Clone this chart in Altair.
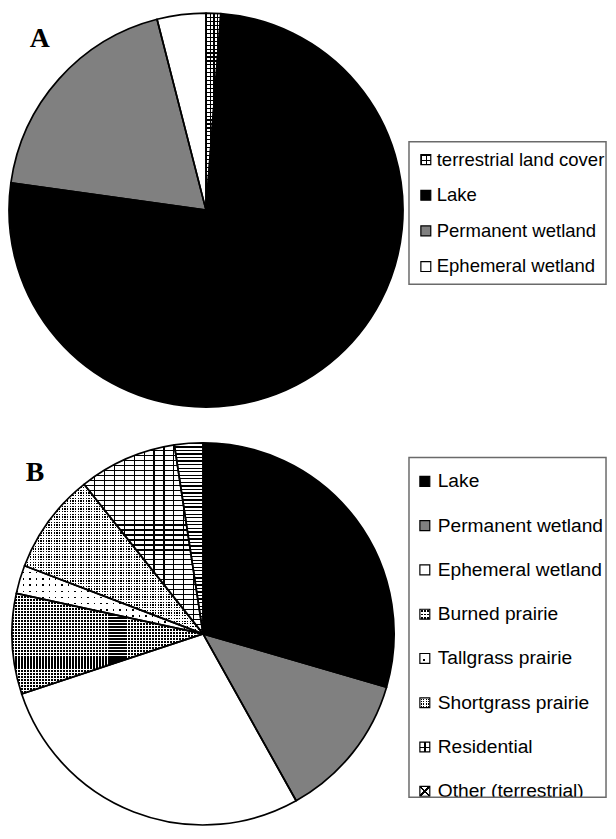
import math
import altair as alt
import pandas as pd

# ---------------- data ----------------
cats_a = ["terrestrial land cover", "Lake", "Permanent wetland", "Ephemeral wetland"]
vals_a = [1.2, 76.0, 18.8, 4.0]

cats_b = ["Lake", "Permanent wetland", "Ephemeral wetland", "Burned prairie",
          "Tallgrass prairie", "Shortgrass prairie", "Residential", "Other (terrestrial)"]
vals_b = [29.5, 12.4, 28.0, 8.5, 2.4, 8.5, 8.3, 2.4]

panel_labels = ["A", "B"]

# ---------------- layout / style ----------------
W, H = 606, 822
PIE_A = dict(x=200, y=200, r=199)
PIE_B = dict(x=197, y=628, r=193)
LEG_A = dict(x0=405, x1=604, y0=131, y1=275, iy0=149, iy1=257, sx=422, tx=430, fs=18.7)
LEG_B = dict(x0=405, x1=604, y0=450, y1=793, iy0=474, iy1=787, sx=421, tx=431, fs=19.4)
BLACK, WHITE, CLEAR, GRAY = "#000000", "#ffffff", "rgba(0,0,0,0)", "#808080"
TEXT_FONT = "Liberation Sans"

solid = {"Lake": BLACK, "Permanent wetland": GRAY, "Ephemeral wetland": WHITE}
pie_patterns = {
    "terrestrial land cover": ("grid", 4.0, 4.0, 1.2),
    "Burned prairie": ("dots", 3.0, 2.1),
    "Tallgrass prairie": ("dots", 6.5, 1.5),
    "Shortgrass prairie": ("dots", 2.7, 1.3),
    "Residential": ("grid", 10.0, 5.0, 1.2),
    "Other (terrestrial)": ("hlines", 3.6, 1.3),
}


def stripes(extent, period, width, on, off, axis, phase=0.0):
    n = max(1, round(extent / period))
    f = min(0.95, width * n / extent)
    segs = []
    for k in range(-1, n + 1):
        a = max(0.0, (k + phase) / n)
        b = min(1.0, (k + phase + f) / n)
        if b > a:
            segs.append((a, b))
    stops = []

    def add(o, c):
        stops.append({"offset": round(o, 5), "color": c})

    pos = 0.0
    for a, b in segs:
        if a > pos:
            add(pos, off)
            add(a, off)
        add(a, on)
        add(b, on)
        pos = b
    if pos < 1:
        add(pos, off)
        add(1.0, off)
    return {"gradient": "linear", "x1": 0, "y1": 0,
            "x2": 1 if axis == "x" else 0, "y2": 0 if axis == "x" else 1,
            "stops": stops}


def diag(on, off, flip):
    stops = [{"offset": 0, "color": off}, {"offset": 0.43, "color": off},
             {"offset": 0.43, "color": on}, {"offset": 0.57, "color": on},
             {"offset": 0.57, "color": off}, {"offset": 1, "color": off}]
    if flip:
        return {"gradient": "linear", "x1": 1, "y1": 0, "x2": 0, "y2": 1, "stops": stops}
    return {"gradient": "linear", "x1": 0, "y1": 0, "x2": 1, "y2": 1, "stops": stops}


def slice_bbox(t0, t1, r):
    a0, a1 = t0 / 100 * 2 * math.pi, t1 / 100 * 2 * math.pi
    pts = [(0, 0), (r * math.sin(a0), -r * math.cos(a0)), (r * math.sin(a1), -r * math.cos(a1))]
    for k in range(5):
        c = k * math.pi / 2
        if a0 < c < a1:
            pts.append((r * math.sin(c), -r * math.cos(c)))
    xs = [p[0] for p in pts]
    ys = [p[1] for p in pts]
    return max(xs) - min(xs), max(ys) - min(ys)


def fills_for(cat, w, h):
    if cat in solid:
        return [solid[cat]]
    p = pie_patterns[cat]
    if p[0] == "dots":
        return [stripes(w, p[1], p[2], BLACK, WHITE, "x"),
                stripes(h, p[1], p[2], CLEAR, WHITE, "y")]
    if p[0] == "grid":
        return [stripes(w, p[1], p[3], BLACK, WHITE, "x"),
                stripes(h, p[2], p[3], BLACK, CLEAR, "y")]
    return [stripes(h, p[1], p[2], BLACK, WHITE, "y")]


swatch_fills = {
    "terrestrial land cover": [stripes(10, 5, 1.2, BLACK, WHITE, "x"), stripes(10, 5, 1.2, BLACK, CLEAR, "y")],
    "Lake": [BLACK],
    "Permanent wetland": [GRAY],
    "Ephemeral wetland": [WHITE],
    "Burned prairie": [stripes(10, 3.3, 1.8, BLACK, WHITE, "x", 0.3), stripes(10, 3.3, 1.8, CLEAR, WHITE, "y", 0.3)],
    "Tallgrass prairie": [stripes(10, 10, 2, BLACK, WHITE, "x", 0.35), stripes(10, 10, 2, CLEAR, WHITE, "y", 0.55)],
    "Shortgrass prairie": [stripes(10, 2.5, 1.1, BLACK, WHITE, "x", 0.3), stripes(10, 2.5, 1.1, CLEAR, WHITE, "y", 0.3)],
    "Residential": [stripes(10, 10, 1.3, BLACK, WHITE, "y", 0.45), stripes(10, 10, 1.2, BLACK, CLEAR, "x", 0.45)],
    "Other (terrestrial)": [diag(BLACK, WHITE, False), diag(BLACK, CLEAR, True)],
}


def pie_df(cats, vals):
    df = pd.DataFrame({"cat": cats, "val": vals})
    df["t1"] = df["val"].cumsum()
    df["t0"] = df["t1"] - df["val"]
    return df


theta_scale = alt.Scale(domain=[0, 100])
layers = []


def add_pie(df, pie):
    enc = dict(theta=alt.Theta("t0:Q", scale=theta_scale, stack=False), theta2="t1:Q")
    for _, row in df.iterrows():
        w, h = slice_bbox(row["t0"], row["t1"], pie["r"])
        for f in fills_for(row["cat"], w, h):
            layers.append(
                alt.Chart(df).transform_filter(alt.FieldEqualPredicate(field="cat", equal=row["cat"]))
                .mark_arc(x=pie["x"], y=pie["y"], radius=pie["r"], fill=f)
                .encode(**enc)
            )
    layers.append(
        alt.Chart(df).mark_arc(x=pie["x"], y=pie["y"], radius=pie["r"], fillOpacity=0,
                               stroke=BLACK, strokeWidth=1.7, strokeJoin="round")
        .encode(**enc)
    )


def add_legend(cats, leg, cover=False):
    ldf = pd.DataFrame({"item": cats})
    yenc = alt.Y("item:N", scale=alt.Scale(type="point", domain=cats, range=[leg["iy0"], leg["iy1"]], padding=0), axis=None)
    frame = pd.DataFrame({"k": [0]})
    layers.append(alt.Chart(frame).mark_rect(fill=WHITE).encode(
        x=alt.value(leg["x0"]), x2=alt.value(leg["x1"]), y=alt.value(leg["y0"]), y2=alt.value(leg["y1"])))
    for c in cats:
        for f in swatch_fills[c]:
            layers.append(
                alt.Chart(ldf).transform_filter(alt.FieldEqualPredicate(field="item", equal=c))
                .mark_square(x=leg["sx"], size=100, fill=f, opacity=1, strokeWidth=0)
                .encode(y=yenc)
            )
    layers.append(alt.Chart(ldf).mark_square(x=leg["sx"], size=100, fillOpacity=0, opacity=1,
                                             stroke=BLACK, strokeWidth=1.2).encode(y=yenc))
    layers.append(alt.Chart(ldf).mark_text(x=leg["tx"] + 3, align="left", baseline="middle",
                                           font=TEXT_FONT, fontSize=leg["fs"], color=BLACK)
                  .encode(y=yenc, text="item:N"))
    if cover:
        layers.append(alt.Chart(frame).mark_rect(fill=WHITE).encode(
            x=alt.value(leg["x0"] - 1), x2=alt.value(leg["x1"] + 1), y=alt.value(leg["y1"]), y2=alt.value(leg["y1"] + 14)))
    layers.append(alt.Chart(frame).mark_rect(fillOpacity=0, stroke="#6a6a6a", strokeWidth=1.5).encode(
        x=alt.value(leg["x0"]), x2=alt.value(leg["x1"]), y=alt.value(leg["y0"]), y2=alt.value(leg["y1"])))


add_pie(pie_df(cats_a, vals_a), PIE_A)
add_pie(pie_df(cats_b, vals_b), PIE_B)
add_legend(cats_a, LEG_A)
add_legend(cats_b, LEG_B, cover=True)

lab_pos = [(22, 35), (18, 474)]
for lab, (lx, ly) in zip(panel_labels, lab_pos):
    layers.append(
        alt.Chart(pd.DataFrame({"label": [lab]}))
        .mark_text(x=lx, y=ly, align="left", baseline="alphabetic", font="Liberation Serif",
                   fontWeight="bold", fontSize=28, color=BLACK)
        .encode(text="label:N")
    )

chart = (
    alt.layer(*layers)
    .resolve_scale(y="independent")
    .properties(width=W, height=H, padding=0, autosize=alt.AutoSizeParams(type="none"))
    .configure_view(stroke=None)
)

chart.save("out.html", embed_options={"renderer": "svg", "actions": False})
